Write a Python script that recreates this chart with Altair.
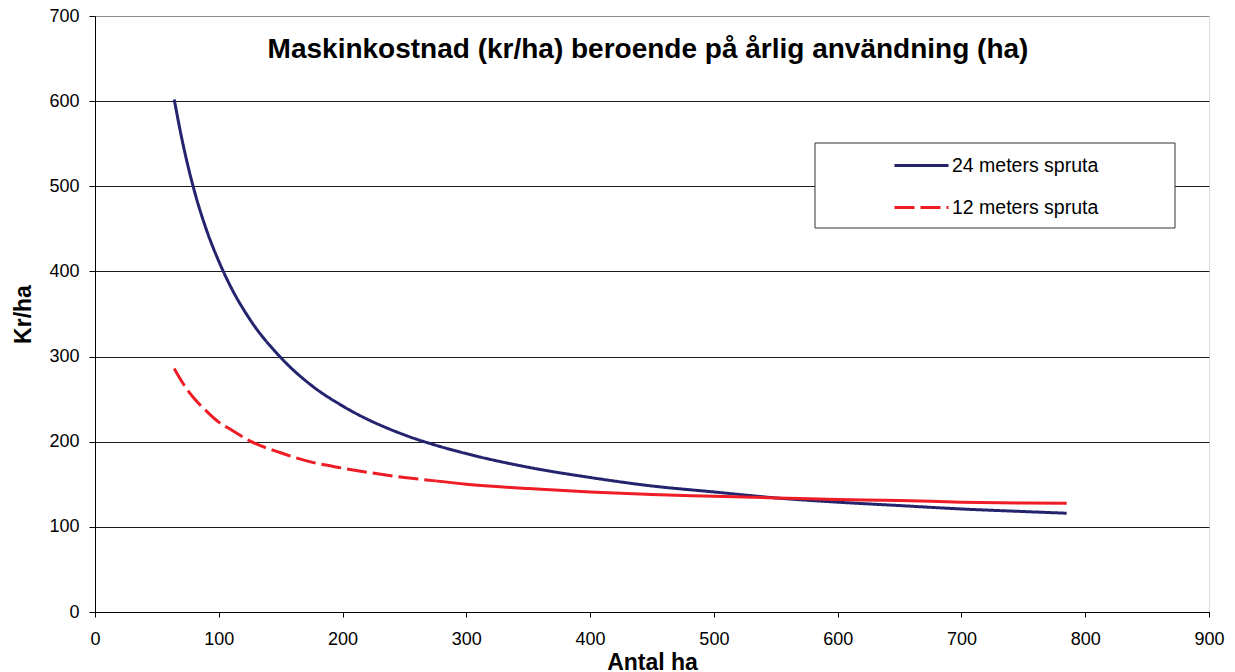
import altair as alt
import pandas as pd

# Values
ha = [64, 70, 80, 90, 100, 110, 125, 150, 175, 200, 250, 275, 300, 350, 400, 450, 500, 550, 600, 650, 700, 750, 785]
kr_24 = [602, 557, 496, 449, 412, 381, 344, 299, 266, 242, 208, 196, 186, 170, 158, 148, 141, 134, 129, 125, 121, 118, 116]
kr_12 = [286, 271, 251, 236, 223, 214, 201, 187, 176, 169, 158, 154, 150, 145, 141, 138, 136, 134, 132, 131, 129, 128, 127.6]

series_names = ["24 meters spruta", "12 meters spruta"]
series_colors = ["#23236e", "#ee1c25"]
x_ticks = [0, 100, 200, 300, 400, 500, 600, 700, 800, 900]
y_ticks = [0, 100, 200, 300, 400, 500, 600, 700]
chart_title = "Maskinkostnad (kr/ha) beroende på årlig användning (ha)"

FONT = "Liberation Sans"

rows = []
for x, y in zip(ha, kr_24):
    rows.append({"ha": x, "kr": y, "serie": series_names[0]})
for x, y in zip(ha, kr_12):
    rows.append({"ha": x, "kr": y, "serie": series_names[1]})
df = pd.DataFrame(rows)

x_enc = alt.X(
    "ha:Q",
    scale=alt.Scale(domain=[0, 900], nice=False, zero=True),
    axis=alt.Axis(
        values=x_ticks, title="Antal ha", grid=False, tickSize=5, labelPadding=13,
        labelFont=FONT, labelFontSize=18, labelColor="black",
        titleFont=FONT, titleFontSize=23, titleFontWeight="bold", titleColor="black",
        titleX=557, titleY=57.5, titleBaseline="alphabetic", titleAlign="center",
        domainColor="black", tickColor="black", labelFlush=False,
    ),
)
y_enc = alt.Y(
    "kr:Q",
    scale=alt.Scale(domain=[0, 700], nice=False),
    axis=alt.Axis(
        values=y_ticks, title="Kr/ha", grid=True,
        gridColor={"condition": {"test": "datum.value === 700", "value": "#8c8c8c"}, "value": "#1a1a1a"},
        tickSize=6, labelPadding=10,
        labelFont=FONT, labelFontSize=18, labelColor="black",
        titleFont=FONT, titleFontSize=23, titleFontWeight="bold", titleColor="black",
        titleX=-72, titleY=298, titleAngle=-90, titleAlign="center", titleBaseline="middle",
        domainColor="black", tickColor="black", labelFlush=False,
    ),
)

legend = alt.Legend(
    orient="none", legendX=798, legendY=121, title=None,
    symbolType="stroke", symbolSize=2916, symbolStrokeWidth=3,
    labelFont=FONT, labelFontSize=19.5, labelColor="black", labelOffset=2,
    rowPadding=4, padding=0,
)

base = alt.Chart(df)

lines_main = base.transform_filter(
    f"datum.serie == '{series_names[0]}' || datum.ha <= 275"
).mark_line(strokeWidth=3, interpolate="monotone").encode(
    x=x_enc,
    y=y_enc,
    color=alt.Color("serie:N", scale=alt.Scale(domain=series_names, range=series_colors), legend=legend),
    strokeDash=alt.StrokeDash("serie:N", scale=alt.Scale(domain=series_names, range=[[1, 0], [20, 6]]), legend=legend),
)

red_tail = base.transform_filter(
    f"datum.serie == '{series_names[1]}' && datum.ha >= 275"
).mark_line(strokeWidth=3, interpolate="monotone", color=series_colors[1]).encode(
    x="ha:Q",
    y="kr:Q",
)

legend_frame = alt.Chart(pd.DataFrame({"k": [0]})).mark_rect(
    fill="white", stroke="#333333", strokeWidth=1
).encode(
    x=alt.value(720), x2=alt.value(1080), y=alt.value(127), y2=alt.value(212)
)

title_text = alt.Chart(pd.DataFrame({"t": [chart_title]})).mark_text(
    font=FONT, fontSize=28, fontWeight="bold", color="black",
    align="center", baseline="alphabetic",
).encode(x=alt.value(553), y=alt.value(42.3), text="t:N")

chart = alt.layer(legend_frame, lines_main, red_tail, title_text).properties(
    width=1114, height=596,
    autosize=alt.AutoSizeParams(type="none"),
    padding={"left": 87, "top": 8, "right": 18, "bottom": 60},
).configure_view(stroke="#8c8c8c", strokeWidth=1).configure(background="white")

chart.save("out.html", embed_options={"renderer": "svg", "actions": False})
